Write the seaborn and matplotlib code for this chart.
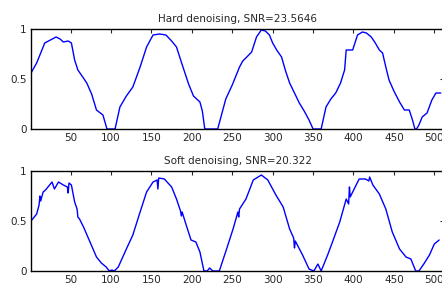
import matplotlib
matplotlib.use("Agg")
import matplotlib.pyplot as plt
import seaborn as sns
import pandas as pd

# values (sample index, amplitude)
hard_x = [1, 8, 18, 25, 32, 37, 41, 47, 51, 55, 59, 65, 70, 76, 82, 90, 95, 100, 105,
          111, 119, 127, 136, 144, 152, 160, 168, 175, 181, 189, 196, 202, 210, 213, 216, 224, 232,
          242, 250, 259, 263, 268, 274, 280, 286, 291, 296, 300, 305, 311, 316, 321, 327, 333,
          339, 345, 350, 355, 360, 366, 372, 378, 384, 389, 391, 395, 399, 405, 411, 416, 422,
          427, 432, 436, 440, 444, 450, 457, 463, 469, 473, 476, 478, 481, 485, 491, 497, 502, 508]
hard_y = [0.56, 0.66, 0.86, 0.89, 0.92, 0.90, 0.87, 0.88, 0.86, 0.69, 0.59, 0.52, 0.46, 0.35, 0.19, 0.14, 0.0, 0.0, 0.0,
          0.22, 0.33, 0.42, 0.62, 0.82, 0.94, 0.95, 0.94, 0.88, 0.82, 0.62, 0.45, 0.33, 0.27, 0.18, 0.0, 0.0, 0.0,
          0.30, 0.44, 0.62, 0.68, 0.72, 0.77, 0.92, 0.99, 0.98, 0.94, 0.86, 0.79, 0.72, 0.58, 0.46, 0.36, 0.26,
          0.18, 0.09, 0.0, 0.0, 0.0, 0.22, 0.30, 0.36, 0.46, 0.59, 0.79, 0.79, 0.79, 0.94, 0.97, 0.96, 0.92,
          0.86, 0.79, 0.76, 0.62, 0.49, 0.38, 0.27, 0.19, 0.19, 0.09, 0.0, 0.0, 0.04, 0.12, 0.16, 0.29, 0.36, 0.36]

soft_x = [1, 8, 11, 12, 13, 16, 19, 23, 27, 30, 35, 41, 46, 47, 48, 51, 55, 58, 59, 61, 66, 74,
          82, 88, 94, 98, 101, 104, 109, 119, 127, 136, 144, 152, 157, 158, 159, 166, 175, 181,
          186, 187, 188, 193, 199, 205, 210, 215, 219, 222, 226, 234, 243, 251, 257, 258, 259,
          267, 276, 286, 294, 304, 310, 313, 321, 326, 327, 328, 337, 345, 351, 356, 360, 368,
          374, 383, 391, 394, 395, 396, 399, 407, 415, 419, 420, 424, 432, 440, 448, 457, 465,
          471, 477, 481, 487, 494, 500, 506]
soft_y = [0.50, 0.57, 0.66, 0.75, 0.70, 0.79, 0.81, 0.85, 0.89, 0.82, 0.89, 0.86, 0.84, 0.78, 0.88, 0.86, 0.69, 0.62, 0.54, 0.52, 0.44, 0.29,
          0.14, 0.08, 0.04, 0.0, 0.01, 0.0, 0.04, 0.22, 0.36, 0.59, 0.79, 0.89, 0.91, 0.82, 0.93, 0.92, 0.84, 0.72,
          0.60, 0.55, 0.59, 0.46, 0.31, 0.29, 0.19, 0.0, 0.0, 0.03, 0.0, 0.0, 0.22, 0.42, 0.59, 0.54, 0.62,
          0.72, 0.91, 0.96, 0.91, 0.76, 0.68, 0.64, 0.42, 0.33, 0.23, 0.30, 0.16, 0.02, 0.0, 0.07, 0.0, 0.16,
          0.29, 0.49, 0.72, 0.67, 0.84, 0.74, 0.79, 0.92, 0.92, 0.90, 0.94, 0.86, 0.77, 0.62, 0.39, 0.22, 0.14,
          0.12, 0.0, 0.0, 0.07, 0.16, 0.27, 0.31]

titles = ["Hard denoising, SNR=23.5646", "Soft denoising, SNR=20.322"]
xticks = [50, 100, 150, 200, 250, 300, 350, 400, 450, 500]
yticks = [0, 0.5, 1]

sns.set_style("white")
plt.rcParams['font.family'] = ['DejaVu Sans']

W, H = 442, 284
fig = plt.figure(figsize=(W / 100, H / 100), dpi=100)

# axes boxes in pixels: left, top, right, bottom
boxes = [(31, 29, 444, 129), (31, 171, 444, 271)]
series = [(hard_x, hard_y), (soft_x, soft_y)]

for (l, t, r, b), (xs, ys), title in zip(boxes, series, titles):
    ax = fig.add_axes([l / W, 1 - b / H, (r - l) / W, (b - t) / H])
    df = pd.DataFrame({"n": xs, "v": ys})
    sns.lineplot(data=df, x="n", y="v", ax=ax, color="#0000ff", linewidth=1.0,
                 estimator=None, sort=False)
    ax.set_xlim(1, 512)
    ax.set_ylim(0, 1)
    ax.set_xticks(xticks)
    ax.set_yticks(yticks)
    ax.set_yticklabels(["0", "0.5", "1"])
    ax.set_xlabel("")
    ax.set_ylabel("")
    ax.tick_params(direction="in", length=3, width=0.8, labelsize=7.5,
                   top=True, right=True, pad=3)
    for s in ax.spines.values():
        s.set_visible(True)
        s.set_color("black")
        s.set_linewidth(1.0)
    ax.set_title(title, fontsize=7.5, pad=5)

fig.savefig("out.png", dpi=100)
